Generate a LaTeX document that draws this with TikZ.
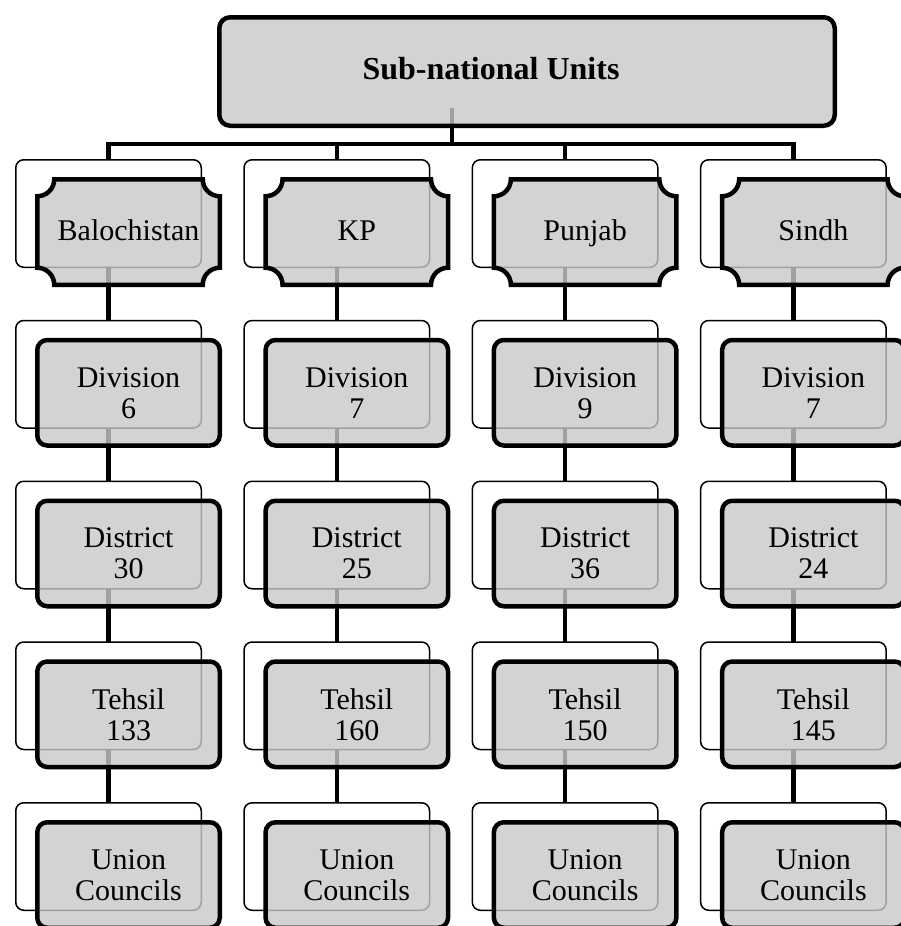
\documentclass[tikz,border=0pt]{standalone}
\usepackage{fontspec}
\setmainfont{Liberation Serif}
\usetikzlibrary{calc}
\pgfdeclarelayer{bg}
\pgfdeclarelayer{back}
\pgfdeclarelayer{mid}
\pgfsetlayers{bg,back,mid,main}
\definecolor{boxgray}{RGB}{200,200,200}
\tikzset{
  conn/.style={line width=4.5pt, draw=black},
  backbox/.style={draw=black, line width=1.5pt, fill=white, rounded corners=8pt,
    minimum width=185.5pt, minimum height=107.5pt, inner sep=0pt, outer sep=0pt},
  frontbox/.style={draw=black, line width=4.5pt, fill=boxgray, fill opacity=0.8, text opacity=1,
    rounded corners=10pt, minimum width=182.5pt, minimum height=105.5pt, inner sep=0pt,
    outer sep=0pt, align=center, font=\fontsize{30}{31}\selectfont},
  provtext/.style={shape=rectangle, minimum width=182.5pt, minimum height=105.5pt,
    inner sep=0pt, outer sep=0pt, text height=20pt, text depth=4pt,
    font=\fontsize{30}{31}\selectfont},
  plaque/.style={draw=black, line width=4.5pt, fill=boxgray, fill opacity=0.8},
  topbox/.style={draw=black, line width=4.5pt, fill=boxgray, fill opacity=0.8,
    rounded corners=11pt, minimum width=615.5pt, minimum height=108.5pt,
    inner sep=0pt, outer sep=0pt},
  toptext/.style={inner sep=0pt, font=\fontsize{32}{33}\selectfont\bfseries},
}
\newcommand{\plaquepath}[1]{%
  \path[plaque] let \p1=(#1.north west), \p2=(#1.south east) in
    (\x1+17pt,\y1) -- (\x2-17pt,\y1)
    .. controls (\x2-17pt,\y1-9.4pt) and (\x2-9.4pt,\y1-17pt) .. (\x2,\y1-17pt)
    -- (\x2,\y2+17pt)
    .. controls (\x2-9.4pt,\y2+17pt) and (\x2-17pt,\y2+9.4pt) .. (\x2-17pt,\y2)
    -- (\x1+17pt,\y2)
    .. controls (\x1+17pt,\y2+9.4pt) and (\x1+9.4pt,\y2+17pt) .. (\x1,\y2+17pt)
    -- (\x1,\y1-17pt)
    .. controls (\x1+9.4pt,\y1-17pt) and (\x1+17pt,\y1-9.4pt) .. (\x1+17pt,\y1)
    -- cycle;}
\begin{document}
\begin{tikzpicture}[x=1pt, y=-1pt]
\useasboundingbox (0,0) rectangle (900,926);

% top
\node[topbox] (top) at (527,71.5) {};
\node[toptext] (toptext) at (491,69) {Sub-national Units};
\coordinate (stub) at (452,108);
\coordinate (bus) at (452,144);

% back boxes
\begin{pgfonlayer}{back}
\foreach \c/\x in {1/108.5,2/336.8,3/565.1,4/793.4} {
  \foreach \r/\y in {1/213.5,2/374.25,3/535,4/695.75,5/856.5} {
    \node[backbox] (b\c\r) at (\x,\y) {};
  }
}
\end{pgfonlayer}

% front boxes
\foreach \c/\x/\prov/\dv/\ds/\th in {1/108.5/Balochistan/6/30/133, 2/336.8/KP/7/25/160, 3/565.1/Punjab/9/36/150, 4/793.4/Sindh/7/24/145} {
  \node[provtext] (f\c1) at (\x+20,232) {\prov};
  \begin{pgfonlayer}{mid}
    \plaquepath{f\c1}
  \end{pgfonlayer}
  \node[frontbox] (f\c2) at (\x+20,392.75) {Division\\\dv};
  \node[frontbox] (f\c3) at (\x+20,553.5) {District\\\ds};
  \node[frontbox] (f\c4) at (\x+20,714.25) {Tehsil\\\th};
  \node[frontbox] (f\c5) at (\x+20,875) {Union\\Councils};
}

% connectors
\begin{pgfonlayer}{bg}
\foreach \c in {1,2,3,4} {
  \draw[conn] (stub) -- (bus) -| (b\c1.north);
  \foreach \r/\s in {1/2,2/3,3/4,4/5} {
    \draw[conn] (b\c\r.south) -- (b\c\s.north);
  }
}
\end{pgfonlayer}
\end{tikzpicture}
\end{document}
